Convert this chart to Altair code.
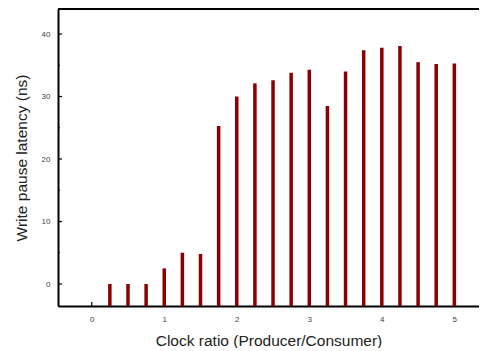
import altair as alt
import pandas as pd

ratios = [0.25, 0.5, 0.75, 1.0, 1.25, 1.5, 1.75, 2.0, 2.25, 2.5,
          2.75, 3.0, 3.25, 3.5, 3.75, 4.0, 4.25, 4.5, 4.75, 5.0]
latency = [0.0, 0.0, 0.0, 2.5, 5.0, 4.8, 25.3, 30.0, 32.1, 32.6,
           33.8, 34.3, 28.5, 34.0, 37.4, 37.8, 38.1, 35.5, 35.2, 35.3]
y_ticks = [0, 10, 20, 30, 40]
y_minor = [5, 15, 25, 35]
x_ticks = [0, 1, 2, 3, 4, 5]

W, H = 421, 297
XDOM = [-0.465, 5.34]
YDOM = [-3.52, 44]

df = pd.DataFrame({"ratio": ratios, "lat": latency})

xs = alt.Scale(domain=XDOM, nice=False, zero=False)
ys = alt.Scale(domain=YDOM, nice=False, zero=False)

lab = dict(labelFont="Liberation Sans", labelFontSize=8, labelColor="#444",
           titleFont="Liberation Sans", titleFontSize=15.5, titleColor="#222",
           titleFontWeight="normal", domainColor="black", domainWidth=2,
           ticks=False, grid=False)

bars = alt.Chart(df).mark_rule(strokeWidth=3.5, color="#8b0000", strokeCap="butt").encode(
    x=alt.X("ratio:Q", scale=xs,
            axis=alt.Axis(values=x_ticks, title="Clock ratio (Producer/Consumer)",
                          labelPadding=9, titlePadding=10, format="d", **lab)),
    y=alt.Y("lat:Q", scale=ys,
            axis=alt.Axis(values=y_ticks, title="Write pause latency (ns)",
                          labelPadding=8, titlePadding=12, format="d", **lab)),
    y2=alt.value(H),
)

ytk = alt.Chart(pd.DataFrame({"v": y_ticks})).mark_rule(color="black", strokeWidth=1.2).encode(
    y=alt.Y("v:Q", scale=ys), x=alt.value(0), x2=alt.value(4))
ymn = alt.Chart(pd.DataFrame({"v": y_minor})).mark_rule(color="black", strokeWidth=1).encode(
    y=alt.Y("v:Q", scale=ys), x=alt.value(0), x2=alt.value(2))
xtk = alt.Chart(pd.DataFrame({"v": x_ticks})).mark_rule(color="black", strokeWidth=1.2).encode(
    x=alt.X("v:Q", scale=xs), y=alt.value(H), y2=alt.value(H - 4))
top = alt.Chart(pd.DataFrame({"a": [0]})).mark_rule(color="black", strokeWidth=2).encode(
    x=alt.value(0), x2=alt.value(W), y=alt.value(0))

chart = alt.layer(xtk, bars, ytk, ymn, top).properties(
    width=W, height=H,
    autosize=alt.AutoSizeParams(type="none"),
    padding={"left": 50, "top": 1, "right": 0, "bottom": 42},
).configure_view(stroke=None).configure(background="white")

chart.save("out.html", embed_options={"renderer": "svg", "actions": False})
